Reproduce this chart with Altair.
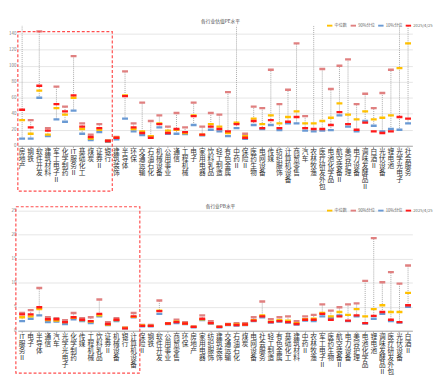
import altair as alt
import pandas as pd

SERIES = ["中位数", "90%分位", "10%分位", "2025/4/25"]
COLORS = ["#FFC000", "#E08080", "#6A9AD4", "#FF1A1A"]
FONT = "Noto Sans CJK SC"

# ---------------- PE panel ----------------
pe_title = "各行业估值PE水平"
pe_cats = ["房地产", "钢铁", "软件开发", "建筑材料", "军工电子Ⅱ", "化学制药", "IT服务Ⅱ", "基础化工",
           "煤炭", "证券Ⅱ", "银行", "建筑装饰", "半导体", "环保", "交通运输", "石油石化",
           "机械设备", "公用事业", "通信", "工程机械", "电子", "家用电器", "饮料乳品", "轻工制造",
           "有色金属", "中药Ⅱ", "保险Ⅱ", "医药生物", "电网设备", "传媒", "纺织服饰", "计算机设备",
           "商贸零售", "汽车", "农林牧渔", "医疗研发外包", "电池化学品", "航空装备Ⅱ", "美容护理", "电力设备",
           "调味发酵品Ⅱ", "白酒Ⅱ", "光伏设备", "锂电池", "光学光电子", "社会服务"]
pe_p90 = [200, 32, 143, 22, 74, 49, 112, 28, 14, 27, 7, 11, 93, 28, 54, 31,
          38, 24, 41, 23, 54, 24, 41, 39, 67, 200, 15, 49, 47, 95, 52, 70,
          128, 37, 200, 96, 71, 100, 108, 52, 65, 47, 66, 95, 200, 200]
pe_med = [32, 15, 69, 14, 47, 39, 60, 21, 9, 20, 6, 10, 63, 21, 18, 12,
          28, 19, 20, 16, 38, 14, 27, 24, 16, 29, 12, 34, 27, 38, 28, 36,
          43, 28, 28, 31, 35, 53, 39, 33, 43, 33, 35, 38, 97, 128]
pe_p10 = [9, 9, 60, 12, 33, 30, 44, 15, 7, 17, 5, 8, 34, 18, 13.5, 12,
          23, 15, 15, 14.7, 26, 13, 20, 18, 12, 22, 8.6, 26, 21, 26, 19.6, 28,
          28, 19, 18, 19, 19.6, 38, 24, 18, 31, 25, 18, 21, 20, 28]
pe_cur = [45, 23, 75, 19, 52, 43, 63, 24, 11, 22, 6, 10, 62, 23, 16, 10,
          27, 16, 21, 17, 37, 14, 24, 21, 18, 27, 10, 31, 22, 32, 22, 30,
          36, 22, 21, 21, 26, 42, 27, 20, 29, 18, 16, 18, 36, 34]

# ---------------- PB panel ----------------
pb_title = "各行业PB水平"
pb_cats = ["IT服务Ⅱ", "电子", "半导体", "通信", "汽车", "光学光电子", "化学制药", "传媒",
           "工程机械", "饮料乳品", "证券Ⅱ", "机械设备", "银行", "计算机设备", "保险Ⅱ", "钢铁",
           "软件开发", "公用事业", "商贸零售", "环保", "房地产", "家用电器", "纺织服饰", "建筑装饰",
           "交通运输", "石油石化", "煤炭", "电网设备", "社会服务", "轻工制造", "有色金属", "基础化工",
           "建筑材料", "中药Ⅱ", "农林牧渔", "军工电子Ⅱ", "医药生物", "航空装备Ⅱ", "电力设备", "美容护理",
           "电池化学品", "锂电池", "调味发酵品Ⅱ", "医疗研发外包", "光伏设备", "白酒Ⅱ"]
pb_p90 = [3.7, 4.3, 8.9, 2.8, 2.6, 2.2, 3.7, 2.6, 2.8, 6.5, 1.8, 2.6, 0.7, 3.7, 1.2, 1.2,
          6.3, 1.6, 2.3, 1.8, 0.9, 3.2, 2.0, 0.9, 1.4, 1.6, 1.6, 2.8, 6.1, 2.4, 2.8, 3.0,
          2.0, 3.0, 3.3, 5.5, 4.2, 4.9, 5.5, 5.7, 10.4, 19.3, 10.1, 12.2, 9.8, 13.6]
pb_med = [2.8, 3.0, 4.5, 2.2, 2.1, 1.8, 2.7, 2.2, 1.9, 3.2, 1.3, 2.2, 0.6, 2.9, 1.1, 1.0,
          4.2, 1.5, 1.9, 1.5, 0.8, 2.4, 1.6, 0.8, 1.3, 1.3, 1.3, 2.2, 3.2, 1.9, 2.2, 2.1,
          1.6, 2.4, 2.5, 3.7, 3.0, 3.9, 3.3, 4.5, 3.0, 4.5, 5.3, 3.9, 3.9, 7.9]
pb_p10 = [2.0, 2.5, 3.2, 1.8, 1.9, 1.4, 2.4, 2.0, 1.6, 3.0, 1.2, 2.0, 0.5, 2.8, 0.9, 0.9,
          3.5, 1.4, 1.6, 1.4, 0.7, 2.2, 1.5, 0.7, 1.2, 1.1, 1.2, 2.0, 2.8, 1.7, 1.9, 1.7,
          1.3, 2.1, 2.0, 3.0, 2.6, 3.2, 2.0, 3.0, 1.5, 2.5, 3.5, 2.0, 1.7, 5.0]
pb_cur = [3.4, 3.4, 4.9, 2.4, 2.4, 1.8, 2.8, 2.3, 2.0, 3.5, 1.4, 2.3, 0.5, 3.0, 1.0, 1.0,
          4.1, 1.5, 1.8, 1.5, 0.8, 2.5, 1.6, 0.8, 1.3, 1.2, 1.3, 2.1, 3.0, 1.8, 2.0, 1.8,
          1.4, 2.3, 2.3, 3.5, 2.3, 3.0, 2.1, 3.2, 1.6, 3.1, 3.9, 2.3, 1.8, 5.3]

LABEL_EXPR = "datum.label == 'IT服务Ⅱ' ? ['IT', '服', '务', 'Ⅱ'] : split(datum.label, '')"


def panel(cats, p90, med, p10, cur, title, ymax, yvals, box):
    wide = pd.DataFrame({"行业": cats, "lo": p10, "hi": p90})
    rows = []
    for name, vals in [("90%分位", p90), ("10%分位", p10), ("中位数", med), ("2025/4/25", cur)]:
        for c, v in zip(cats, vals):
            rows.append({"行业": c, "系列": name, "值": v})
    long = pd.DataFrame(rows)

    x = alt.X("行业:N", sort=cats, title=None,
              scale=alt.Scale(paddingInner=0, paddingOuter=0),
              axis=alt.Axis(labelAngle=0, labelExpr=LABEL_EXPR, labelFont=FONT,
                            labelFontSize=6.8, labelLineHeight=7.1, labelBaseline="top",
                            labelPadding=1, labelColor="#333", labelOverlap=False,
                            labelBound=False, tickSize=2, tickColor="#aaa",
                            domainColor="#aaa", grid=False))
    yscale = alt.Scale(domain=[0, ymax], nice=False, zero=True)
    yaxis = alt.Axis(values=yvals, title=None, labelFontSize=4.5, labelColor="#777",
                     domain=False, ticks=False, gridColor="#e6e6e6", labelPadding=2,
                     labelFont=FONT)

    rule = alt.Chart(wide).mark_rule(clip=True, color="#aaaaaa", strokeDash=[1, 1],
                                     strokeWidth=1).encode(
        x=x,
        y=alt.Y("lo:Q", scale=yscale, axis=yaxis),
        y2="hi:Q",
    )
    ticks = alt.Chart(long).mark_tick(clip=True, thickness=2.4, size=6, opacity=1).encode(
        x=x,
        y=alt.Y("值:Q", scale=yscale, axis=yaxis),
        color=alt.Color("系列:N", scale=alt.Scale(domain=SERIES, range=COLORS),
                        legend=alt.Legend(title=None, orient="none", direction="horizontal",
                                          legendX=314, legendY=-3.5, labelFontSize=4.2,
                                          labelFont=FONT, labelColor="#666",
                                          symbolType="M-1,-0.35H1V0.35H-1Z", symbolSize=30,
                                          symbolStrokeWidth=0, columnPadding=3,
                                          labelOffset=2, padding=0)),
    )
    rect = alt.Chart(pd.DataFrame({"a": [0]})).mark_rect(
        fill=None, stroke="#FF4D4D", strokeDash=[3, 2], strokeWidth=1.2, clip=False
    ).encode(
        x=alt.value(box[0]), x2=alt.value(box[1]),
        y=alt.value(box[2]), y2=alt.value(box[3]),
    )
    ttl = alt.Chart(pd.DataFrame({"t": [title]})).mark_text(
        font=FONT, fontSize=4.8, color="#444", baseline="middle", align="center"
    ).encode(text="t:N", x=alt.value(206), y=alt.value(-4))
    return alt.layer(rule, ticks, rect, ttl).properties(width=401, height=122)


top = panel(pe_cats, pe_p90, pe_med, pe_p10, pe_cur, pe_title, 150,
            [0, 20, 40, 60, 80, 100, 120, 140], (0, 96, 6, 168))
bottom = panel(pb_cats, pb_p90, pb_med, pb_p10, pb_cur, pb_title, 25,
               [0, 5, 10, 15, 20, 25], (-2, 124, -4, 165))

chart = alt.vconcat(top, bottom, spacing=12).resolve_scale(
    x="independent", y="independent", color="independent"
).resolve_legend(color="independent").properties(
    padding={"left": 0, "top": 8, "right": 0, "bottom": 0}
).configure_view(stroke=None)

chart.save("out.html", embed_options={"renderer": "svg", "actions": False})
